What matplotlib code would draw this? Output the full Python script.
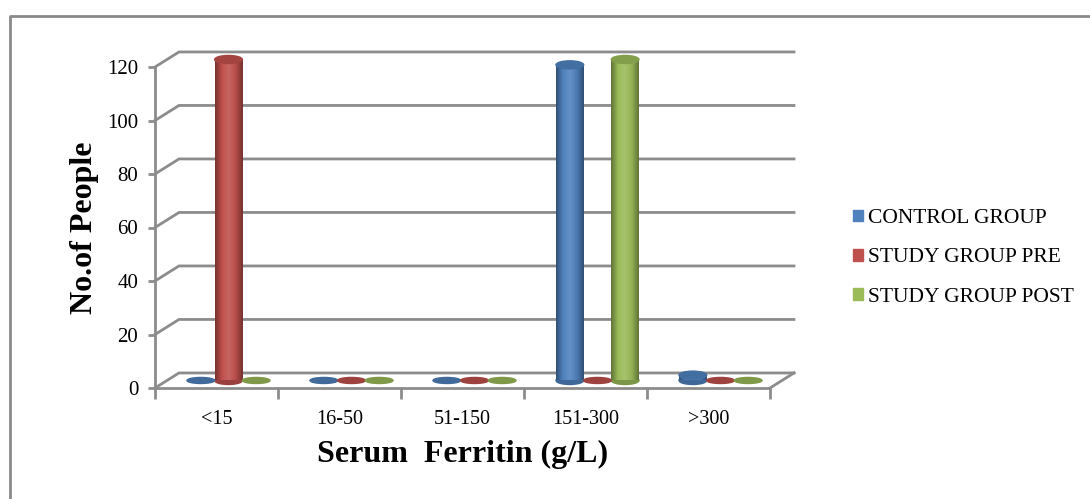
"""Serum ferritin distribution, control vs. study group (pre / post)."""

import matplotlib

matplotlib.use("Agg")
import matplotlib.pyplot as plt
import numpy as np
from matplotlib.colors import LinearSegmentedColormap, to_rgb
from matplotlib.patches import Ellipse

CATEGORIES = ["<15", "16-50", "51-150", "151-300", ">300"]
SERIES = ["CONTROL GROUP", "STUDY GROUP PRE", "STUDY GROUP POST"]
CONTROL = [0, 0, 0, 118, 2]
STUDY_PRE = [120, 0, 0, 0, 0]
STUDY_POST = [0, 0, 0, 120, 0]
YTICKS = [0, 20, 40, 60, 80, 100, 120]

COLORS = ["#4F81BD", "#C0504D", "#9BBB59"]
GRID = "#8c8c8c"
W, H = 1090, 499

# pseudo-3D depth, in data units (category / value)
DX = 24 / 123
DY = 15 / (320 / 120)
BW = 0.225
EH = 3.0


def shade(c, f):
    r = np.array(to_rgb(c))
    return tuple(r * f) if f < 1 else tuple(r + (1 - r) * (f - 1))


def cylinder(ax, x, v, color):
    base = DY / 2
    top = base + v
    if v > 0:
        cmap = LinearSegmentedColormap.from_list(
            "c", [shade(color, 0.62), shade(color, 1.0), shade(color, 1.12),
                  shade(color, 0.95), shade(color, 0.62)])
        grad = np.linspace(0, 1, 64)[None, :]
        im = ax.imshow(grad, cmap=cmap, aspect="auto", interpolation="bilinear",
                       extent=(x - BW / 2, x + BW / 2, base, top), zorder=3)
        im.set_clip_on(False)
        ax.add_patch(Ellipse((x, base), BW, EH, color=shade(color, 0.8), zorder=2.9,
                             clip_on=False))
        ax.add_patch(Ellipse((x, top), BW, EH, color=shade(color, 0.85), zorder=3.1,
                             clip_on=False))
    else:
        ax.add_patch(Ellipse((x, base), BW, EH * 0.75, color=shade(color, 0.82),
                             zorder=3, clip_on=False))


def main():
    fig = plt.figure(figsize=(W / 100, H / 100), dpi=100)
    plt.rcParams["font.family"] = ["Liberation Serif", "DejaVu Serif"]

    # front plot area in pixels: x 155..770, y 388 (0) .. 67 (120)
    ax = fig.add_axes([155 / W, 1 - 388 / H, 615 / W, 321 / H])
    ax.set_xlim(0, 5)
    ax.set_ylim(0, 120)
    ax.patch.set_visible(False)
    for s in ("top", "right"):
        ax.spines[s].set_visible(False)
    for s in ("left", "bottom"):
        ax.spines[s].set_color(GRID)
        ax.spines[s].set_linewidth(2)

    # back wall gridlines + floor
    for v in YTICKS:
        ax.plot([0, DX, 5 + DX], [v, v + DY, v + DY], color=GRID, lw=2,
                clip_on=False, zorder=1, solid_joinstyle="miter")
    ax.plot([5, 5 + DX], [0, DY], color=GRID, lw=2, clip_on=False, zorder=1)

    ax.set_yticks(YTICKS)
    ax.set_xticks(range(6))
    ax.set_xticklabels([])
    ax.set_xticks([i + 0.5 for i in range(5)], minor=True)
    ax.set_xticklabels(CATEGORIES, minor=True, fontsize=14.5)
    ax.tick_params(axis="y", length=5, width=2, color=GRID, labelsize=15, pad=7)
    ax.tick_params(axis="x", which="major", length=8, width=2, color=GRID)
    ax.tick_params(axis="x", which="minor", length=0, pad=16)

    values = [CONTROL, STUDY_PRE, STUDY_POST]
    for i in range(len(CATEGORIES)):
        center = i + 0.5 + DX / 2
        for j, (vals, col) in enumerate(zip(values, COLORS)):
            cylinder(ax, center + (j - 1) * BW, vals[i], col)
    ax.set_xlim(0, 5)
    ax.set_ylim(0, 120)

    ax.set_ylabel("No.of People", fontsize=23, fontweight="bold", labelpad=6)
    ax.set_xlabel("Serum  Ferritin (g/L)", fontsize=23, fontweight="bold", labelpad=8)

    handles = [plt.Rectangle((0, 0), 1, 1, color=c) for c in COLORS]
    fig.legend(handles, SERIES, loc="center left", bbox_to_anchor=(834 / W, 1 - 258 / H),
               frameon=False, fontsize=15.5, handlelength=0.45, handleheight=0.45,
               handletextpad=0.25, labelspacing=0.95)

    # outer chart border (cut off at right/bottom)
    fig.add_artist(plt.Line2D([9.5 / W, 9.5 / W, 1], [0, 1 - 15.5 / H, 1 - 15.5 / H],
                              color="#8a8a8a", lw=2, transform=fig.transFigure))

    fig.savefig("out.png", dpi=100)


if __name__ == "__main__":
    main()
